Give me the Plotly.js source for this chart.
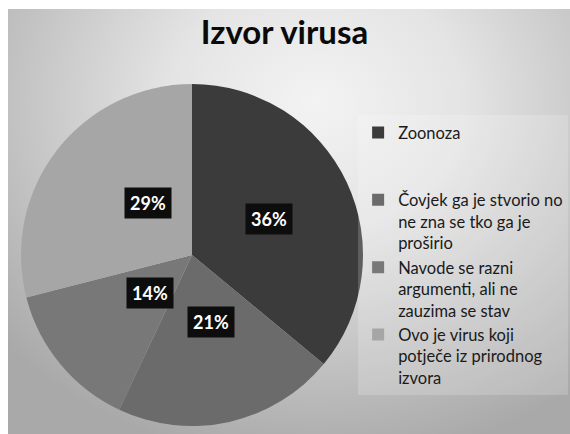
<!DOCTYPE html>
<html>
<head>
<meta charset="utf-8">
<script src="https://cdn.plot.ly/plotly-3.0.1.min.js"></script>
<style>
html,body{margin:0;padding:0;background:#ffffff;}
#chart{position:absolute;left:8px;top:9px;width:562px;height:425px;
background:radial-gradient(ellipse 75% 85% at 55% 22%, #f3f3f3 0%, #e4e4e4 35%, #c4c4c4 70%, #a9a9a9 100%);}
</style>
</head>
<body>
<div id="chart"></div>
<script>
var categories = [
  "Zoonoza<br> <br> ",
  "Čovjek ga je stvorio no<br>ne zna se tko ga je<br>proširio",
  "Navode se razni<br>argumenti, ali ne<br>zauzima se stav",
  "Ovo je virus koji<br>potječe iz prirodnog<br>izvora"
];
var values = [36, 21, 14, 29];
var colors = ["#3b3b3b", "#6b6b6b", "#787878", "#a6a6a6"];
var titleText = "Izvor virusa";

var W = 562, H = 425;
var cx = 184, cy = 246, r = 171;
var domX = [(cx - r) / W, (cx + r) / W];
var domY = [1 - (cy + r) / H, 1 - (cy - r) / H];

var trace = {
  type: "pie",
  labels: categories,
  values: values,
  sort: false,
  direction: "clockwise",
  rotation: 0,
  marker: {colors: colors, line: {width: 0}},
  textinfo: "none",
  hoverinfo: "none",
  domain: {x: domX, y: domY}
};

// label annotations placed at half radius on each slice's mid-angle
var total = values.reduce(function(a, b){return a + b;}, 0);
var annotations = [];
var cum = 0;
values.forEach(function(v){
  var mid = (cum + v / 2) / total * 2 * Math.PI;
  cum += v;
  var px = cx + 0.5 * r * Math.sin(mid);
  var py = cy - 0.5 * r * Math.cos(mid);
  var pct = Math.round(v / total * 100) + "%";
  annotations.push({x: px / W, y: 1 - py / H, xref: "paper", yref: "paper",
    showarrow: false, width: 36, height: 20, borderpad: 5, align: "center", valign: "middle",
    text: "<b>" + pct + "</b>",
    bgcolor: "#0d0d0d", font: {family: "Lato", size: 18, color: "#ffffff"}});
});

var layout = {
  width: W, height: H,
  margin: {l: 0, r: 0, t: 0, b: 0},
  paper_bgcolor: "rgba(0,0,0,0)",
  plot_bgcolor: "rgba(0,0,0,0)",
  title: {text: "<b>" + titleText + "</b>", font: {family: "Lato", size: 33, color: "#0a0a0a"},
    x: 0.492, xanchor: "center", y: 0.945, yanchor: "middle"},
  showlegend: true,
  legend: {x: 0.623, xanchor: "left", y: 0.75, yanchor: "top",
    bgcolor: "rgba(255,255,255,0.18)", borderwidth: 0, valign: "top",
    font: {family: "Lato", size: 16.5, color: "#1a1a1a"}, traceorder: "normal"},
  annotations: annotations
};

Plotly.newPlot("chart", [trace], layout, {displayModeBar: false, staticPlot: true});
</script>
</body>
</html>
